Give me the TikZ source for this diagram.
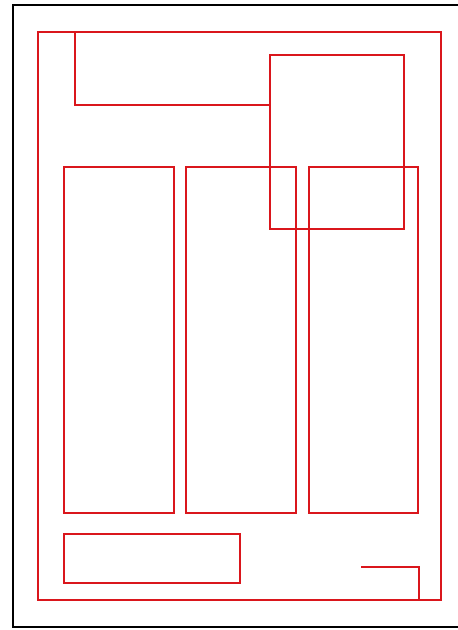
\documentclass[tikz,border=0pt]{standalone}
\definecolor{boxred}{RGB}{218,22,28}
\begin{document}
\begin{tikzpicture}[x=1pt,y=-1pt,
  redline/.style={draw=boxred,line width=2.6pt},
  frameline/.style={draw=black,line width=2.4pt}]
\useasboundingbox (0,0) rectangle (458,630);
\fill[white] (0,0) rectangle (458,630);
% black frame (open at right)
\draw[frameline] (458,5) -- (13,5) -- (13,627) -- (458,627);
% outer red rectangle
\draw[redline] (38,32) rectangle (441,600);
% top-left bracket
\draw[redline] (75,32) -- (75,105) -- (270,105);
% upper right box
\draw[redline] (270,55) rectangle (404,229);
% three columns
\draw[redline] (64,167) rectangle (174,513);
\draw[redline] (186,167) rectangle (296,513);
\draw[redline] (309,167) rectangle (418,513);
% bottom box
\draw[redline] (64,534) rectangle (240,583);
% bottom right bracket
\draw[redline] (361,567) -- (419,567) -- (419,600);
\end{tikzpicture}
\end{document}
